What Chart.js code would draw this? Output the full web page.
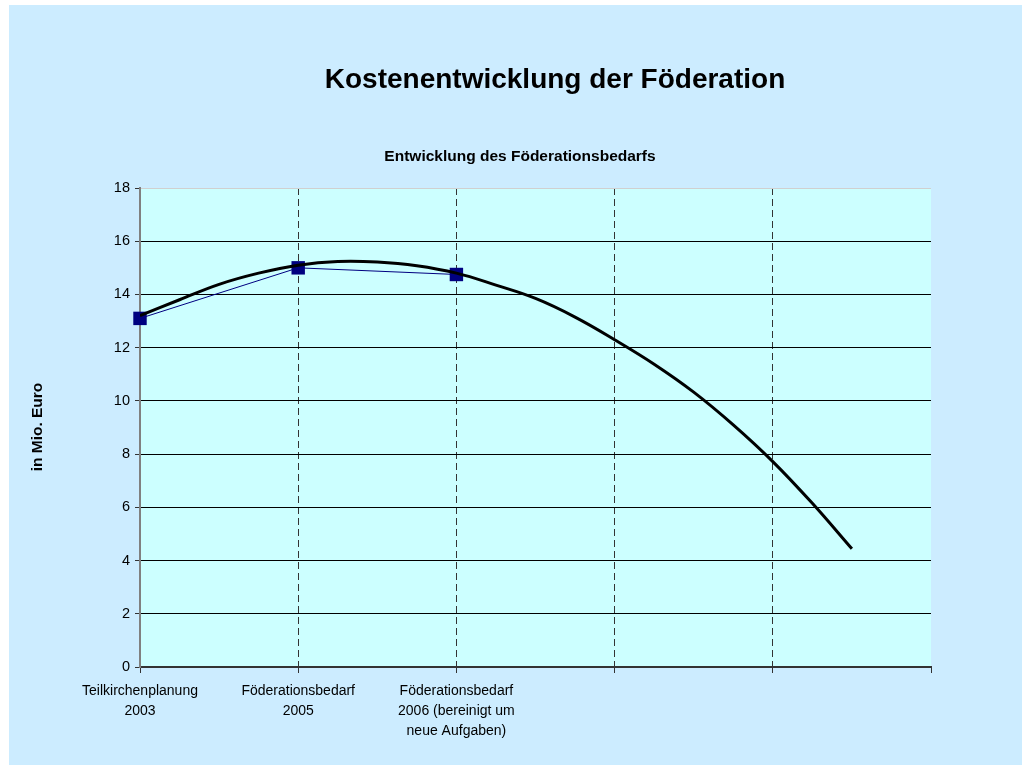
<!DOCTYPE html>
<html>
<head>
<meta charset="utf-8">
<script src="https://cdn.jsdelivr.net/npm/chart.js@4"></script>
<style>
  html, body { margin: 0; padding: 0; background: #ffffff; }
  #wrap { width: 1022px; height: 765px; }
</style>
</head>
<body>
<div id="wrap"><canvas id="chart" width="1022" height="765"></canvas></div>
<script>
// Kategorien (nur die ersten drei sind beschriftet)
const kategorien = [
  ["Teilkirchenplanung", "2003"],
  ["Föderationsbedarf", "2005"],
  ["Föderationsbedarf", "2006 (bereinigt um", "neue Aufgaben)"],
  "", "", ""
];
const bedarfX = [0, 1, 2];
const bedarfWerte = [13.1, 15.0, 14.75];

// Trendlinie (polynomisch)
const trendX = [0, 0.25, 0.5, 0.75, 1, 1.25, 1.5, 1.75, 2, 2.25, 2.5, 2.75, 3, 3.25, 3.5, 3.75, 4, 4.25, 4.5];
const trendWerte = [13.2, 13.8, 14.38, 14.8, 15.1, 15.24, 15.22, 15.08, 14.8, 14.35, 13.85, 13.15, 12.3, 11.38, 10.33, 9.1, 7.72, 6.15, 4.44];

const yTicks = [0, 2, 4, 6, 8, 10, 12, 14, 16, 18];

const FONT = "'Liberation Sans', Arial, sans-serif";

const hintergrund = {
  id: "hintergrund",
  beforeDraw(chart) {
    const c = chart.ctx;
    const a = chart.chartArea;
    c.save();
    c.fillStyle = "#ccecff";
    c.fillRect(9, 5, chart.width - 9, chart.height - 5);
    c.fillStyle = "#ccffff";
    c.fillRect(a.left, a.top, a.right - a.left, a.bottom - a.top);
    c.restore();
  },
  afterDraw(chart) {
    const c = chart.ctx;
    c.save();
    c.fillStyle = "#000";
    c.textAlign = "center";
    c.textBaseline = "middle";
    c.font = "bold 28px " + FONT;
    c.fillText("Kostenentwicklung der Föderation", 555, 80);
    c.font = "bold 15.5px " + FONT;
    c.fillText("Entwicklung des Föderationsbedarfs", 520, 157);
    c.translate(38, 427);
    c.rotate(-Math.PI / 2);
    c.fillText("in Mio. Euro", 0, 0);
    c.restore();
  }
};

const trendPunkte = trendX.map((x, i) => ({ x: x, y: trendWerte[i] }));
const bedarfPunkte = bedarfX.map((x, i) => ({ x: x, y: bedarfWerte[i] }));

new Chart(document.getElementById("chart").getContext("2d"), {
  type: "line",
  data: {
    datasets: [
      {
        label: "Trend",
        data: trendPunkte,
        borderColor: "#000000",
        borderWidth: 3,
        pointRadius: 0,
        tension: 0.4,
        order: 1
      },
      {
        label: "Föderationsbedarf",
        data: bedarfPunkte,
        borderColor: "#000080",
        backgroundColor: "#000080",
        borderWidth: 1,
        pointStyle: "rect",
        pointRadius: 9.5,
        pointBorderWidth: 0,
        clip: false,
        order: 2
      }
    ]
  },
  options: {
    responsive: false,
    animation: false,
    layout: { padding: { top: 188, right: 91, left: 0, bottom: 0 } },
    plugins: {
      legend: { display: false },
      tooltip: { enabled: false }
    },
    scales: {
      x: {
        type: "linear",
        min: 0,
        max: 5,
        afterBuildTicks: (s) => { s.ticks = [0, 1, 2, 3, 4, 5].map(v => ({ value: v })); },
        afterFit: (s) => { s.height = 98; },
        ticks: {
          autoSkip: false,
          maxRotation: 0,
          padding: 8,
          color: "#000",
          font: { family: FONT, size: 14, lineHeight: 1.43 },
          callback: (v) => kategorien[v]
        },
        grid: {
          color: (ctx) => (ctx.tick && (ctx.tick.value === 0 || ctx.tick.value === 5)) ? "rgba(0,0,0,0)" : "#333333",
          tickColor: "#333333",
          tickLength: 6,
          tickBorderDash: [],
          lineWidth: 1
        },
        border: { color: "#333333", width: 2, dash: [7, 4] }
      },
      y: {
        min: 0,
        max: 18,
        afterBuildTicks: (s) => { s.ticks = yTicks.map(v => ({ value: v })); },
        afterFit: (s) => { s.width = 140; },
        ticks: {
          padding: 5,
          color: "#000",
          font: { family: FONT, size: 14.5 }
        },
        grid: {
          color: (ctx) => {
            const v = ctx.tick ? ctx.tick.value : null;
            if (v === 0) return "rgba(0,0,0,0)";
            if (v === 18) return "#d0d0d0";
            return "#000000";
          },
          tickColor: "#333333",
          tickLength: 5,
          lineWidth: 1
        },
        border: { color: "#808080", width: 2 }
      }
    }
  },
  plugins: [hintergrund]
});
</script>
</body>
</html>
